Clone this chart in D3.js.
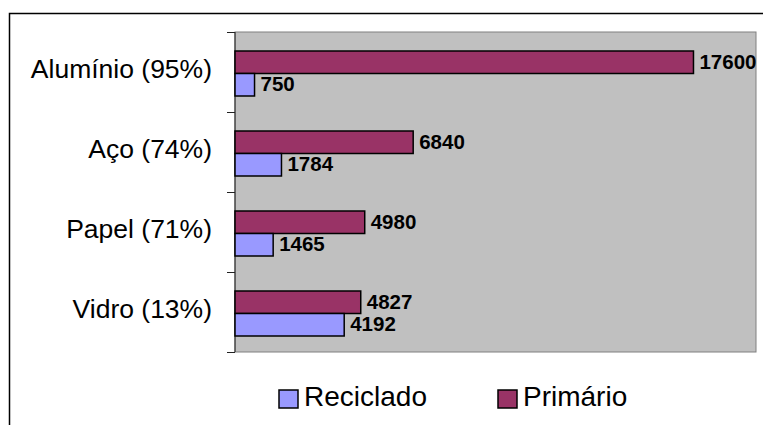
<!DOCTYPE html>
<html>
<head>
<meta charset="utf-8">
<script src="https://cdn.jsdelivr.net/npm/d3@7"></script>
<style>
  body { margin: 0; background: #fff; }
  svg { display: block; font-family: Arial, "Liberation Sans", sans-serif; }
</style>
</head>
<body>
<svg id="chart" width="763" height="425"></svg>
<script>
const width = 763
const height = 425

// data
const categories = ['Alumínio (95%)', 'Aço (74%)', 'Papel (71%)', 'Vidro (13%)']
const primario = [17600, 6840, 4980, 4827]
const reciclado = [750, 1784, 1465, 4192]
const seriesNames = ['Primário', 'Reciclado']
const legendNames = ['Reciclado', 'Primário']

const colors = {
  'Primário': '#993366',
  'Reciclado': '#9999ff'
}

const plot = { left: 235, top: 32, right: 756, bottom: 352 }

const svg = d3.select('svg#chart')

// outer chart frame (cut off at right and bottom)
svg.append('rect')
  .attr('x', 9.5)
  .attr('y', 13.5)
  .attr('width', 800)
  .attr('height', 500)
  .attr('fill', '#fff')
  .attr('stroke', '#000')
  .attr('stroke-width', 1.5)

const x = d3.scaleLinear()
  .domain([0, 20000])
  .range([plot.left, plot.right])

const y = d3.scaleBand()
  .domain(categories)
  .range([plot.top, plot.bottom])

const inner = d3.scaleBand()
  .domain(seriesNames)
  .range([19, y.bandwidth() - 16])

// plot area
svg.append('rect')
  .attr('x', plot.left)
  .attr('y', plot.top)
  .attr('width', plot.right - plot.left)
  .attr('height', plot.bottom - plot.top)
  .attr('fill', '#c0c0c0')
  .attr('stroke', '#808080')
  .attr('stroke-width', 1)

// category axis with ticks between bands
const axis = svg.append('g')
axis.append('line')
  .attr('x1', plot.left).attr('x2', plot.left)
  .attr('y1', plot.top).attr('y2', plot.bottom)
  .attr('stroke', '#222')

const tickYs = categories.map(c => y(c)).concat([plot.bottom])
axis.selectAll('.tick')
  .data(tickYs)
  .enter().append('line')
  .attr('x1', plot.left - 8).attr('x2', plot.left)
  .attr('y1', d => Math.round(d) + 0.5).attr('y2', d => Math.round(d) + 0.5)
  .attr('stroke', '#222')

axis.selectAll('.cat')
  .data(categories)
  .enter().append('text')
  .attr('x', 212)
  .attr('y', d => y(d) + y.bandwidth() / 2 + 5.5)
  .attr('text-anchor', 'end')
  .attr('font-size', 26.5)
  .attr('fill', '#000')
  .text(d => d)

const rows = categories.map((c, i) => ({
  cat: c,
  values: [
    { name: 'Primário', value: primario[i] },
    { name: 'Reciclado', value: reciclado[i] }
  ]
}))

const group = svg.selectAll('.grp')
  .data(rows)
  .enter().append('g')
  .attr('transform', d => `translate(0,${y(d.cat)})`)

group.selectAll('rect')
  .data(d => d.values)
  .enter().append('rect')
  .attr('x', x(0))
  .attr('y', d => inner(d.name))
  .attr('width', d => x(d.value) - x(0))
  .attr('height', inner.bandwidth())
  .attr('fill', d => colors[d.name])
  .attr('stroke', '#000')
  .attr('stroke-width', 1.5)

group.selectAll('.val')
  .data(d => d.values)
  .enter().append('text')
  .attr('x', d => x(d.value) + 6)
  .attr('y', d => inner(d.name) + inner.bandwidth() / 2 + 6.5)
  .attr('font-size', 20.5)
  .attr('font-weight', 'bold')
  .attr('fill', '#000')
  .text(d => d.value)

// legend
const legendX = [279, 498]
const legend = svg.selectAll('.legend')
  .data(legendNames)
  .enter().append('g')
  .attr('transform', (d, i) => `translate(${legendX[i]},390)`)

legend.append('rect')
  .attr('width', 19)
  .attr('height', 18)
  .attr('fill', d => colors[d])
  .attr('stroke', '#000')
  .attr('stroke-width', 1.5)

legend.append('text')
  .attr('x', 25)
  .attr('y', 16)
  .attr('font-size', 28)
  .attr('fill', '#000')
  .text(d => d)
</script>
</body>
</html>
